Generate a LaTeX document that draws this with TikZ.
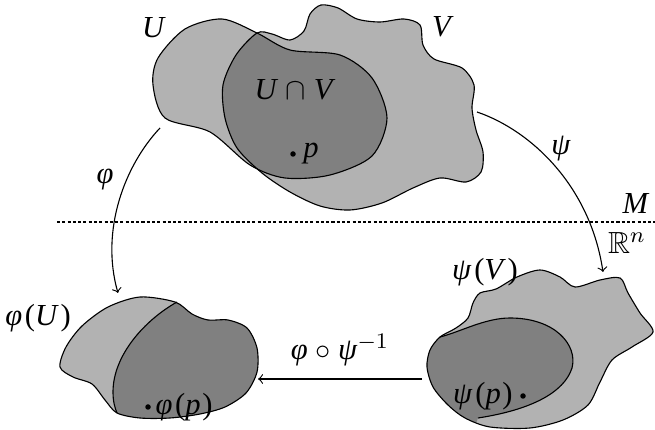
\documentclass[tikz,border=0pt]{standalone}
\usepackage{amssymb}
\usepackage{fontspec}
\setmainfont{Liberation Serif}
\usetikzlibrary{positioning}

\newcommand\vi[1]{\textit{#1}}
\newcommand\ofarg[2]{\vi{#1}\kern1pt(\vi{#2}\kern0.6pt)}

% blob outlines, in pixel units
\def\Ublob{plot[smooth cycle] coordinates {(250,165) (210,132) (165,118) (153,85) (158,58) (185,29) (222,19) (257,33) (290,50) (340,55) (372,78) (387,118) (372,156) (330,175) (285,178)}}
\def\Vblob{plot[smooth cycle] coordinates {(257,33) (236,55) (223,85) (225,118) (237,148) (262,173) (290,192) (320,206) (350,210) (382,203) (413,188) (440,178) (466,182) (481,172) (483,152) (476,130) (472,108) (474,85) (462,68) (434,59) (423,45) (420,25) (404,19) (380,22) (357,19) (338,8) (321,5) (310,14) (304,31) (290,40) (272,34)}}
\def\PhiBlob{plot[smooth cycle] coordinates {(60,367) (66,347) (82,326) (108,307) (140,297) (175,302) (192,314) (208,320) (228,320) (247,328) (257,348) (257,372) (246,393) (225,407) (200,414) (170,418) (140,418) (117,413) (105,400) (92,384) (73,377)}}
\def\PsiBlob{plot[smooth cycle] coordinates {(440,337) (456,328) (468,318) (473,303) (480,293) (496,289) (517,277) (540,270) (560,277) (575,287) (600,280) (620,278) (628,293) (640,313) (653,332) (632,347) (612,360) (600,382) (588,405) (563,420) (530,428) (490,427) (465,418) (448,405) (433,387) (427,367) (430,350)}}
\def\phiCut{(177,302) .. controls (145,320) and (113,355) .. (113,392) .. controls (113,402) and (115,408) .. (117,413)}
\def\psiCut{(440,337) .. controls (460,332) and (485,318) .. (510,318) .. controls (555,318) and (578,345) .. (572,368) .. controls (564,393) and (530,410) .. (478,418)}

\begin{document}
\begin{tikzpicture}[
    x=0.36pt, y=-0.36pt,
    font=\fontsize{11}{13}\selectfont,
    lightset/.style={fill=black!30},
    darkset/.style={fill=black!50},
    outline/.style={draw=black,line width=0.4pt},
    maparrow/.style={->,line width=0.4pt},
    border/.style={line width=0.4pt,dash pattern=on 1.1pt off 0.8pt},
    dot/.style={circle,fill,inner sep=0.7pt}
]
\useasboundingbox (0,0) rectangle (655,430);

% manifold M
\fill[lightset] \Ublob;
\fill[lightset] \Vblob;
\begin{scope}
  \clip \Vblob;
  \fill[darkset] \Ublob;
\end{scope}
\draw[outline] \Ublob;
\draw[outline] \Vblob;

% phi(U)
\fill[lightset] \PhiBlob;
\begin{scope}
  \clip (177,290) -- \phiCut -- (118,430) -- (270,430) -- (270,290) -- cycle;
  \fill[darkset] \PhiBlob;
\end{scope}
\draw[outline] \PhiBlob;
\draw[outline] \phiCut;

% psi(V)
\fill[lightset] \PsiBlob;
\begin{scope}
  \clip (430,330) -- \psiCut -- (470,440) -- (400,440) -- (400,320) -- cycle;
  \fill[darkset] \PsiBlob;
\end{scope}
\draw[outline] \PsiBlob;
\draw[outline] \psiCut;

% labels
\node (labU) at (154,28) {\vi{U}};
\node (labV) at (443,27) {\vi{V}};
\node (labUV) at (295,90) {\vi{U} $\cap$ \vi{V}};
\node[dot] (p) at (293,154) {};
\node[right=-1pt of p] (labp) {\vi{p}};
\node (labM) at (636,203) {\vi{M}};
\node (labR) at (627,243) {$\mathbb{R}^n$};
\node (labPhiU) at (38,318) {\ofarg{φ}{U}};
\node (labPsiV) at (485,272) {\ofarg{ψ}{V}};
\node[dot] (phip) at (148,407) {};
\node[right=-2pt of phip] (labphip) {\ofarg{φ}{p}};
\node[dot] (psip) at (523,396) {};
\node[left=-1pt of psip] (labpsip) {\ofarg{ψ}{p}};

% the boundary between M and R^n
\coordinate (lineL) at (57,222);
\coordinate (lineR) at (655,222);
\draw[border] (lineL) -- (lineR);

% maps
\coordinate (phiS) at (160,128);
\coordinate (phiE) at (118,293);
\draw[maparrow] (phiS) .. controls (125,165) and (100,230) .. (phiE);
\node (labphi) at (105,180) {\vi{φ}};
\coordinate (psiS) at (477,112);
\coordinate (psiE) at (603,272);
\draw[maparrow] (psiS) .. controls (530,130) and (590,185) .. (psiE);
\node (labpsi) at (561,149) {\vi{ψ}};
\coordinate (compS) at (422,379);
\coordinate (compE) at (258,379);
\draw[maparrow] (compS) -- node[above=1pt] {\vi{φ} $\circ$ \vi{ψ}$^{-1}$} (compE);
\end{tikzpicture}
\end{document}
